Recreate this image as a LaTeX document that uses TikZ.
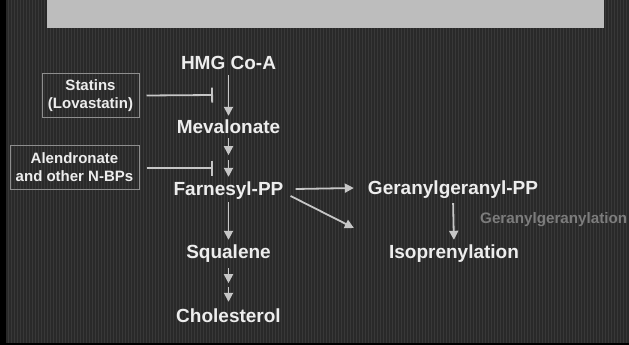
\documentclass[tikz,border=0pt]{standalone}
\usepackage{fontspec}
\setmainfont{Liberation Sans}
\usetikzlibrary{arrows.meta,calc}
\definecolor{bgdark}{HTML}{292929}
\definecolor{stripe}{HTML}{383838}
\definecolor{band}{HTML}{BDBDBD}
\definecolor{txt}{HTML}{EDEDED}
\definecolor{arrcol}{HTML}{C6C6C6}
\definecolor{boxline}{HTML}{8E8E8E}
\definecolor{faint}{HTML}{7C7C7C}
\tikzset{
  lbl/.style={inner sep=0pt, text height=13pt, text depth=4pt, text=txt,
    font=\fontsize{19}{21}\selectfont\bfseries},
  agentbox/.style={draw=boxline, line width=1pt, inner sep=0pt, align=center, text=txt,
    font=\fontsize{15}{18}\selectfont\bfseries},
  arr/.style={draw=arrcol, line width=1.8pt, -{Triangle[length=9pt,width=9pt]}},
  inh/.style={draw=arrcol, line width=1.8pt, -{Bar[width=15pt,line width=1.8pt]}},
}
\begin{document}
\begin{tikzpicture}[x=1pt,y=-1pt]
\useasboundingbox (0,0) rectangle (629,345);
% background
\fill[bgdark] (0,0) rectangle (629,345);
\foreach \sx in {8,11,...,626} \fill[stripe] (\sx,0) rectangle (\sx+1,345);
\fill[black] (0,0) rectangle (6,345);
\fill[black] (0,343) rectangle (629,345);
\fill[band] (47,0) rectangle (604,28);

% main pathway
\node[lbl] (hmg)  at (228.5,65.5)  {HMG Co-A};
\node[lbl] (mev)  at (228.5,128.5) {Mevalonate};
\node[lbl] (far)  at (228.5,190.5) {Farnesyl-PP};
\node[lbl] (squ)  at (228.5,253.5) {Squalene};
\node[lbl] (chol) at (228.5,317.5) {Cholesterol};
\node[lbl] (gg)   at (453,189.5)   {Geranylgeranyl-PP};
\node[lbl] (iso)  at (454,253.5)   {Isoprenylation};

% inhibitors
\node[agentbox, minimum width=97pt, minimum height=43pt] (statins) at (90.5,95.5)
  {Statins\\(Lovastatin)};
\node[agentbox, minimum width=129pt, minimum height=44pt] (alend) at (74.5,167)
  {Alendronate\\and other N-BPs};
\coordinate (inh1) at (213,95);
\coordinate (inh2) at (213,168);

% faint label at the right edge
\node[anchor=base west, inner sep=0pt, text=faint,
  font=\fontsize{15.2}{18}\selectfont\bfseries] (ggl) at (480,223) {Geranylgeranylation};

% arrows
\draw[arr, shorten <=1pt, shorten >=4pt] (hmg.south) -- (mev.north);
\draw[arr] ([yshift=-1pt]mev.south) -- ([yshift=-18pt]mev.south);
\draw[arr] ([yshift=22pt]far.north) -- ([yshift=5pt]far.north);
\draw[arr, shorten <=3pt, shorten >=5pt] (far.south) -- (squ.north);
\draw[arr] ([yshift=-6pt]squ.south) -- ([yshift=-21pt]squ.south);
\draw[arr] ([yshift=22pt]chol.north) -- ([yshift=7pt]chol.north);
\draw[arr, shorten <=5pt, shorten >=5pt] (gg.south) -- (iso.north);
\draw[arr] ([xshift=12pt,yshift=1.5pt]far.east) -- ([xshift=-14pt,yshift=1.5pt]gg.west);
\draw[arr] ([xshift=7pt,yshift=-5.5pt]far.east) -- ([xshift=-35pt,yshift=25.5pt]iso.west);
\draw[inh] ([xshift=7pt]statins.east) -- (inh1);
\draw[inh] ([xshift=7pt,yshift=-1pt]alend.east) -- (inh2);
\end{tikzpicture}
\end{document}
